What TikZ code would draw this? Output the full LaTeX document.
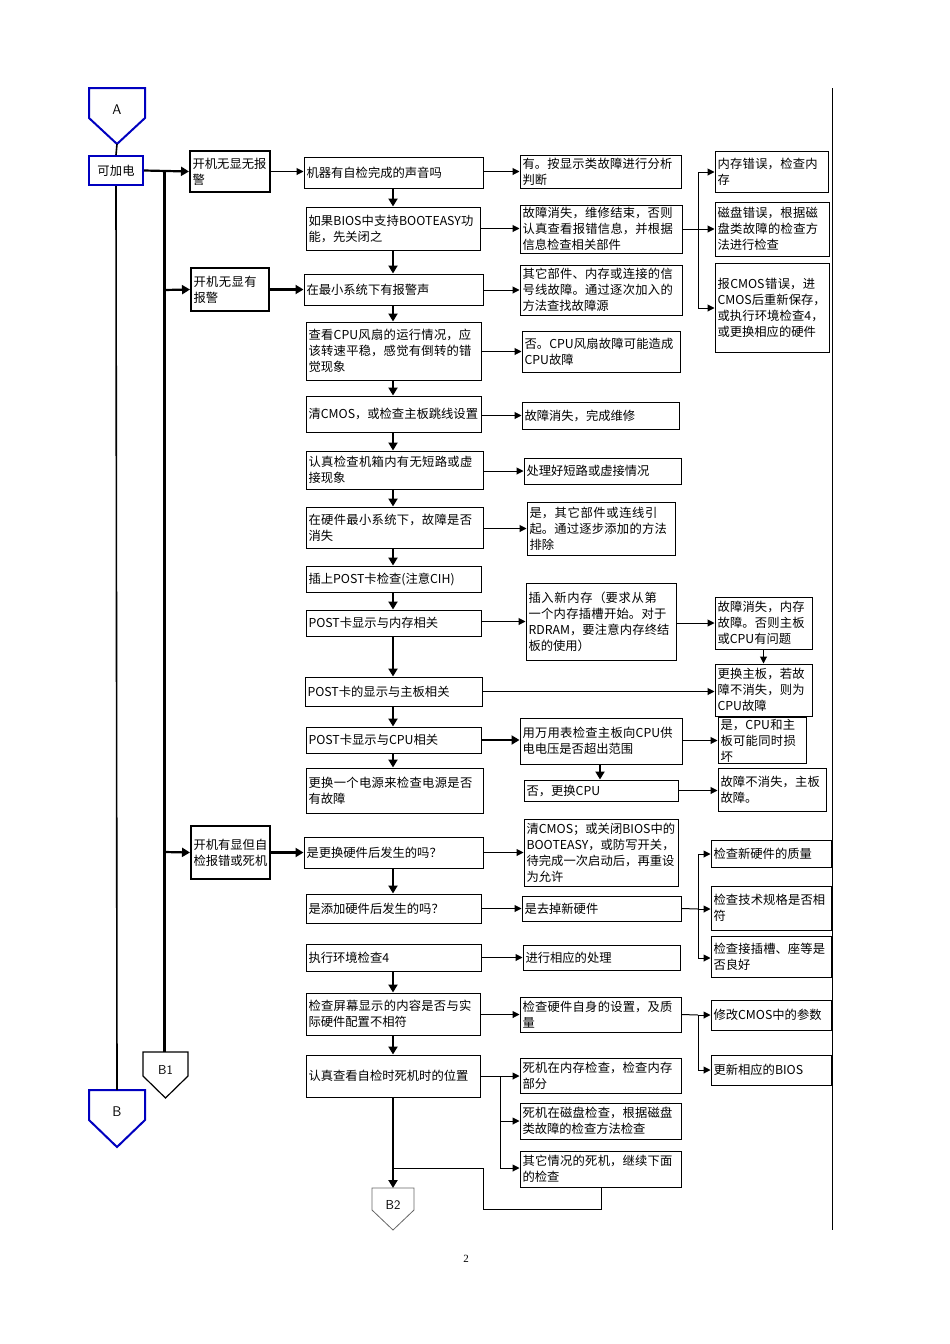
\documentclass[tikz,border=0pt]{standalone}
\usepackage{fontspec}
\setmainfont{Liberation Serif}
\newfontfamily\cjk{Noto Sans CJK SC}
\XeTeXlinebreaklocale "zh"
\XeTeXlinebreakskip=0pt plus 1pt
\usetikzlibrary{arrows.meta}
\newcommand\bx[7][]{\pgfmathsetmacro\bw{#4-#2}\pgfmathsetmacro\bh{#5-#3}\pgfmathsetmacro\tw{#4-#2-5}%
\node[box,#1,minimum width=\bw pt,minimum height=\bh pt,text width=\tw pt] (#7) at ({(#2+#4)/2},{(#3+#5)/2}) {#6};}
\tikzset{
 box/.style={draw,line width=1pt,inner sep=1pt,align=left,font=\cjk\fontsize{12.3}{16}\selectfont,anchor=center},
 thick box/.style={line width=2pt},
 blu/.style={draw=blue!75!black,line width=2pt},
 ar/.style={line width=1pt,-{Triangle[length=7pt,width=7pt]}},
 tar/.style={line width=2.2pt,-{Triangle[length=8pt,width=9pt]}},
 ln/.style={line width=1pt},
}
\begin{document}
\begin{tikzpicture}[x=1pt,y=-1pt]
\useasboundingbox (0,0) rectangle (950,1344);
% pentagons
\draw[blu] (89,88)--(145,88)--(145,118)--(117,144)--(89,118)--cycle;
\node[font=\sffamily\fontsize{14}{16}\selectfont] (A) at (117,110) {A};
\draw[line width=1.2pt] (143,1052)--(188,1052)--(188,1076)--(165.5,1098)--(143,1076)--cycle;
\node[font=\sffamily\fontsize{13}{15}\selectfont] (B1) at (165.5,1070) {B1};
\draw[blu] (89,1090)--(145,1090)--(145,1120)--(117,1147)--(89,1120)--cycle;
\node[font=\sffamily\fontsize{14}{16}\selectfont] (B) at (117,1112) {B};
\draw[line width=0.8pt,draw=gray!80!black] (372,1188)--(414,1188)--(414,1210)--(393,1230)--(372,1210)--cycle;
\node[font=\sffamily\fontsize{13}{15}\selectfont] (B2) at (393,1205) {B2};
\coordinate (B2t) at (393,1188);
\coordinate (Bt) at (117,1090);
\coordinate (B1t) at (164,1052);
% column 1
\bx[blu,align=center]{89}{156}{143}{185}{可加电}{p}
\bx[thick box]{190}{151}{270}{192}{开机无显无报警}{n1}
\bx[thick box]{191}{268}{269}{311}{开机无显有报警}{n2}
\bx[thick box]{191}{826}{270}{879}{开机有显但自检报错或死机}{n3}
% column 2
\bx{304}{157}{483}{188}{机器有自检完成的声音吗}{c1}
\bx{306}{207}{480}{250}{如果BIOS中支持BOOTEASY功能，先关闭之}{c2}
\bx{304}{274}{483}{305}{在最小系统下有报警声}{c3}
\bx{306}{322}{481}{380}{查看CPU风扇的运行情况，应该转速平稳，感觉有倒转的错觉现象}{c4}
\bx{306}{396}{481}{432}{清CMOS，或检查主板跳线设置}{c5}
\bx{306}{451}{483}{489}{认真检查机箱内有无短路或虚接现象}{c6}
\bx{306}{507}{483}{548}{在硬件最小系统下，故障是否消失}{c7}
\bx{306}{566}{481}{592}{插上POST卡检查(注意CIH)}{c8}
\bx{306}{610}{481}{636}{POST卡显示与内存相关}{c9}
\bx{305}{677}{482}{706}{POST卡的显示与主板相关}{c10}
\bx{306}{727}{481}{753}{POST卡显示与CPU相关}{c11}
\bx{306}{768}{483}{813}{更换一个电源来检查电源是否有故障}{c12}
\bx{304}{837}{483}{868}{是更换硬件后发生的吗？}{c13}
\bx{306}{894}{481}{923}{是添加硬件后发生的吗？}{c14}
\bx{306}{944}{481}{971}{执行环境检查4}{c15}
\bx{306}{993}{480}{1035}{检查屏幕显示的内容是否与实际硬件配置不相符}{c16}
\bx{306}{1055}{480}{1097}{认真查看自检时死机时的位置}{c17}
% column 3
\bx{520}{155}{681}{188}{有。按显示类故障进行分析判断}{d1}
\bx{520}{205}{682}{253}{故障消失，维修结束，否则认真查看报错信息，并根据信息检查相关部件}{d2}
\bx{520}{265}{682}{315}{其它部件、内存或连接的信号线故障。通过逐次加入的方法查找故障源}{d3}
\bx{522}{331}{680}{372}{否。CPU风扇故障可能造成CPU故障}{d4}
\bx{522}{402}{679}{429}{故障消失，完成维修}{d5}
\bx{524}{458}{681}{484}{处理好短路或虚接情况}{d6}
\bx{527}{502}{675}{555}{是，其它部件或连线引起。通过逐步添加的方法排除}{d7}
\bx{526}{583}{676}{660}{插入新内存（要求从第一个内存插槽开始。对于RDRAM，要注意内存终结板的使用）}{d8}
\bx{520}{718}{682}{764}{用万用表检查主板向CPU供电电压是否超出范围}{d9}
\bx{524}{780}{678}{801}{否，更换CPU}{d10}
\bx{524}{819}{678}{886}{清CMOS；或关闭BIOS中的BOOTEASY，或防写开关，待完成一次启动后，再重设为允许}{d11}
\bx{522}{896}{681}{921}{是去掉新硬件}{d12}
\bx{523}{945}{680}{970}{进行相应的处理}{d13}
\bx{520}{997}{681}{1032}{检查硬件自身的设置，及质量}{d14}
\bx{520}{1058}{681}{1093}{死机在内存检查，检查内存部分}{d15}
\bx{520}{1103}{681}{1139}{死机在磁盘检查，根据磁盘类故障的检查方法检查}{d16}
\bx{520}{1151}{681}{1187}{其它情况的死机，继续下面的检查}{d17}
% column 4
\bx{715}{151}{828}{192}{内存错误，检查内存}{e1}
\bx{715}{202}{829}{256}{磁盘错误，根据磁盘类故障的检查方法进行检查}{e2}
\bx{715}{263}{829}{352}{报CMOS错误，进CMOS后重新保存，或执行环境检查4，或更换相应的硬件}{e3}
\bx{715}{597}{812}{649}{故障消失，内存故障。否则主板或CPU有问题}{e4}
\bx{715}{664}{812}{716}{更换主板，若故障不消失，则为CPU故障}{e5}
\bx{718}{722}{806}{759}{是，CPU和主板可能同时损坏}{e6}
\bx{718}{768}{826}{811}{故障不消失，主板故障。}{e7}
\bx{711}{840}{831}{867}{检查新硬件的质量}{e8}
\bx{711}{886}{831}{930}{检查技术规格是否相符}{e9}
\bx{711}{936}{831}{977}{检查接插槽、座等是否良好}{e10}
\bx{711}{1000}{831}{1030}{修改CMOS中的参数}{e11}
\bx{711}{1055}{831}{1085}{更新相应的BIOS}{e12}
% left spine
\draw[line width=1.6pt] (117,144) -- (p.north);
\draw[line width=1.6pt] (p.south) -- (Bt);
\draw[tar] (p.east) -- (n1.west);
\draw[line width=3pt] (164,172) -- (B1t);
\draw[tar] (164,290) -- (n2.west);
\draw[tar] (164,852) -- (n3.west);
\draw[ar] (n1.east) -- (n1.east -| c1.west);
\draw[tar] (n2.east) -- (n2.east -| c3.west);
\draw[tar] (n3.east) -- (n3.east -| c13.west);
% column 2 chain
\foreach \a/\b in {c1/c2,c2/c3,c3/c4,c4/c5,c5/c6,c6/c7,c7/c8,c8/c9,c9/c10,c10/c11,c11/c12,c13/c14,c15/c16,c16/c17}
  \draw[tar] (\a.south -| 393,0) -- (\b.north -| 393,0);
\draw[tar] (c17.south -| 393,0) -- (B2t);
% to column 3
\foreach \a/\b in {c1/d1,c3/d3,c4/d4,c5/d5,c6/d6,c7/d7,c9/d8,c13/d11,c14/d12,c15/d13,c16/d14}
  \draw[ar] (\a.east |- \b.west) -- (\b.west);
\draw[ar] (c2.east) -- (c2.east -| d2.west);
\draw[ar] (c10.east) -- (c10.east -| e5.west);
\draw[tar] (c11.east) -- (c11.east -| d9.west);
\draw[ar] (d8.east |- e4.west) -- (e4.west);
\draw[ar] (e4.south) -- (e4.south |- e5.north);
\draw[ar] (d9.east |- e6.west) -- (e6.west);
\draw[tar] (d9.south -| 600,0) -- (d10.north -| 600,0);
\draw[ar] (d10.east) -- (d10.east -| e7.west);
% branches
\draw[ln] (d2.east) -- (698,229);
\draw[ar] (698,172) -- (e1.west |- 0,172);
\draw[ln] (698,172) -- (698,308);
\draw[ar] (698,229) -- (e2.west |- 0,229);
\draw[ar] (698,308) -- (e3.west |- 0,308);
\draw[ln] (d12.east) -- (698,909);
\draw[ln] (698,854) -- (698,958);
\draw[ar] (698,854) -- (e8.west |- 0,854);
\draw[ar] (698,909) -- (e9.west |- 0,909);
\draw[ar] (698,958) -- (e10.west |- 0,958);
\draw[ln] (d14.east) -- (698,1015);
\draw[ln] (698,1015) -- (698,1070);
\draw[ar] (698,1015) -- (e11.west);
\draw[ar] (698,1070) -- (e12.west |- 0,1070);
\draw[ln] (c17.east |- 0,1076) -- (500,1076) -- (500,1168);
\draw[ar] (500,1076) -- (d15.west |- 0,1076);
\draw[ar] (500,1121) -- (d16.west |- 0,1121);
\draw[ar] (500,1168) -- (d17.west |- 0,1168);
\draw[ln] (d17.south -| 601,0) -- (601,1209) -- (483,1209) -- (483,1168) -- (393,1168);
% page line and number
\draw[line width=0.8pt] (832,88) -- (832,1230);
\node[font=\fontsize{11}{13}\selectfont] (pg) at (466,1259) {2};
\end{tikzpicture}
\end{document}
